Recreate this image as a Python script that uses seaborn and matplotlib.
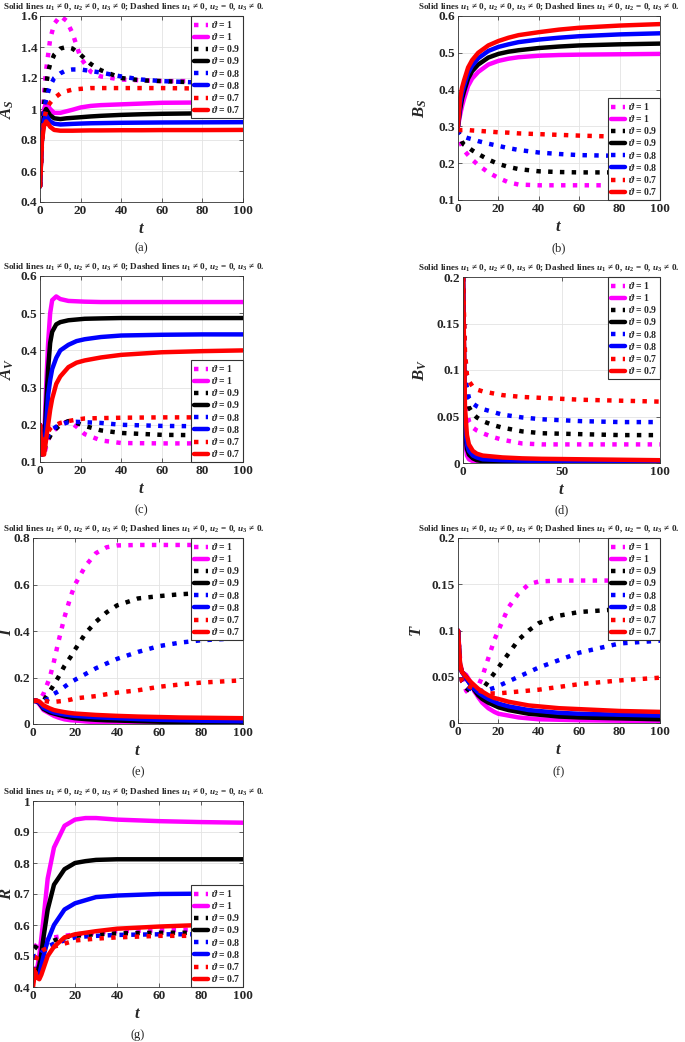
import matplotlib
matplotlib.use("Agg")
import matplotlib.pyplot as plt
import seaborn as sns

# values
thetas = ["1", "0.9", "0.8", "0.7"]
colors = ["#ff00ff", "#000000", "#0000ff", "#ff0000"]

# (a) A_S
t_a = [0, 1, 2, 3, 4, 5, 7, 10, 13, 16, 20, 25, 30, 40, 50, 60, 80, 100]
as_dotted = [
    [0.5, 0.9, 1.1, 1.25, 1.35, 1.45, 1.55, 1.6, 1.57, 1.49, 1.33, 1.24, 1.21, 1.19, 1.185, 1.18, 1.18, 1.18],
    [0.5, 0.85, 1.03, 1.15, 1.24, 1.29, 1.35, 1.39, 1.4, 1.39, 1.35, 1.29, 1.25, 1.2, 1.185, 1.18, 1.17, 1.165],
    [0.5, 0.8, 0.98, 1.06, 1.11, 1.15, 1.2, 1.23, 1.25, 1.255, 1.255, 1.245, 1.235, 1.21, 1.19, 1.18, 1.17, 1.165],
    [0.5, 0.78, 0.93, 0.99, 1.02, 1.04, 1.07, 1.1, 1.115, 1.125, 1.13, 1.135, 1.135, 1.135, 1.135, 1.135, 1.132, 1.13],
]
as_solid = [
    [0.5, 0.85, 1.0, 1.04, 1.02, 1.0, 0.975, 0.975, 0.985, 0.995, 1.01, 1.02, 1.025, 1.03, 1.035, 1.04, 1.042, 1.045],
    [0.5, 0.83, 0.97, 1.0, 0.98, 0.96, 0.94, 0.935, 0.94, 0.943, 0.947, 0.952, 0.956, 0.962, 0.966, 0.969, 0.972, 0.975],
    [0.5, 0.82, 0.93, 0.96, 0.94, 0.92, 0.905, 0.9, 0.902, 0.904, 0.906, 0.908, 0.909, 0.911, 0.912, 0.913, 0.914, 0.915],
    [0.5, 0.8, 0.89, 0.92, 0.905, 0.885, 0.865, 0.86, 0.86, 0.86, 0.861, 0.862, 0.862, 0.863, 0.863, 0.864, 0.864, 0.865],
]

# (b) B_S
t_b = [0, 1, 2, 3, 5, 7, 10, 15, 20, 25, 30, 40, 50, 60, 80, 100]
bs_dotted = [
    [0.29, 0.26, 0.245, 0.235, 0.222, 0.21, 0.195, 0.175, 0.16, 0.148, 0.142, 0.14, 0.14, 0.14, 0.14, 0.14],
    [0.29, 0.27, 0.258, 0.25, 0.243, 0.235, 0.225, 0.21, 0.198, 0.19, 0.184, 0.178, 0.176, 0.175, 0.175, 0.175],
    [0.29, 0.28, 0.275, 0.272, 0.268, 0.265, 0.26, 0.253, 0.247, 0.241, 0.236, 0.229, 0.225, 0.222, 0.22, 0.22],
    [0.29, 0.29, 0.29, 0.29, 0.29, 0.289, 0.288, 0.286, 0.284, 0.283, 0.281, 0.279, 0.277, 0.275, 0.272, 0.27],
]
bs_solid = [
    [0.3, 0.33, 0.355, 0.375, 0.41, 0.43, 0.448, 0.468, 0.478, 0.484, 0.488, 0.492, 0.494, 0.495, 0.496, 0.497],
    [0.3, 0.345, 0.375, 0.395, 0.43, 0.45, 0.468, 0.487, 0.497, 0.503, 0.507, 0.513, 0.517, 0.52, 0.523, 0.525],
    [0.3, 0.36, 0.39, 0.41, 0.445, 0.465, 0.485, 0.505, 0.516, 0.523, 0.529, 0.536, 0.541, 0.545, 0.55, 0.553],
    [0.3, 0.375, 0.405, 0.425, 0.46, 0.48, 0.5, 0.52, 0.532, 0.541, 0.548, 0.556, 0.563, 0.568, 0.574, 0.578],
]

# (c) A_V
t_c = [0, 1, 2, 3, 4, 5, 6, 8, 10, 14, 18, 22, 30, 40, 60, 80, 100]
av_dotted = [
    [0.2, 0.12, 0.12, 0.14, 0.16, 0.17, 0.18, 0.19, 0.2, 0.21, 0.195, 0.175, 0.158, 0.151, 0.15, 0.15, 0.15],
    [0.2, 0.12, 0.13, 0.15, 0.16, 0.17, 0.18, 0.19, 0.2, 0.21, 0.205, 0.197, 0.185, 0.178, 0.173, 0.172, 0.172],
    [0.2, 0.12, 0.14, 0.16, 0.17, 0.18, 0.187, 0.195, 0.2, 0.207, 0.208, 0.207, 0.205, 0.2, 0.197, 0.196, 0.196],
    [0.2, 0.13, 0.15, 0.17, 0.18, 0.19, 0.195, 0.2, 0.205, 0.21, 0.214, 0.217, 0.218, 0.219, 0.22, 0.22, 0.22],
]
av_solid = [
    [0.2, 0.12, 0.15, 0.3, 0.42, 0.5, 0.535, 0.545, 0.538, 0.533, 0.532, 0.531, 0.53, 0.53, 0.53, 0.53, 0.53],
    [0.2, 0.12, 0.13, 0.25, 0.35, 0.42, 0.45, 0.47, 0.476, 0.481, 0.483, 0.485, 0.486, 0.487, 0.487, 0.487, 0.487],
    [0.2, 0.12, 0.13, 0.2, 0.28, 0.32, 0.35, 0.38, 0.4, 0.415, 0.425, 0.43, 0.436, 0.44, 0.442, 0.443, 0.443],
    [0.2, 0.12, 0.12, 0.16, 0.2, 0.24, 0.27, 0.31, 0.33, 0.355, 0.367, 0.373, 0.381, 0.388, 0.395, 0.398, 0.4],
]

# (d) B_V
t_d = [0, 1, 2, 3, 5, 7, 10, 15, 20, 30, 40, 60, 80, 100]
bv_dotted = [
    [0.2, 0.08, 0.055, 0.045, 0.038, 0.035, 0.032, 0.028, 0.025, 0.021, 0.02, 0.02, 0.02, 0.02],
    [0.2, 0.09, 0.07, 0.06, 0.053, 0.049, 0.045, 0.041, 0.038, 0.034, 0.032, 0.031, 0.03, 0.03],
    [0.2, 0.1, 0.08, 0.07, 0.064, 0.061, 0.058, 0.055, 0.052, 0.049, 0.047, 0.045, 0.044, 0.044],
    [0.2, 0.12, 0.095, 0.088, 0.082, 0.079, 0.077, 0.075, 0.073, 0.071, 0.07, 0.068, 0.067, 0.066],
]
bv_solid = [
    [0.2, 0.025, 0.008, 0.004, 0.002, 0.0015, 0.001, 0.0008, 0.0005, 0.0003, 0.0002, 0.0001, 0.0, 0.0],
    [0.2, 0.035, 0.015, 0.009, 0.005, 0.003, 0.002, 0.0015, 0.0012, 0.001, 0.001, 0.001, 0.001, 0.001],
    [0.2, 0.04, 0.02, 0.013, 0.008, 0.006, 0.004, 0.0035, 0.003, 0.0025, 0.0022, 0.002, 0.002, 0.002],
    [0.2, 0.06, 0.03, 0.02, 0.013, 0.01, 0.008, 0.007, 0.006, 0.005, 0.0045, 0.004, 0.0035, 0.003],
]

# (e) I
t_e = [0, 2, 3, 5, 8, 10, 12, 15, 18, 20, 25, 30, 35, 40, 50, 60, 70, 80, 100]
i_dotted = [
    [0.1, 0.1, 0.1, 0.13, 0.2, 0.27, 0.35, 0.46, 0.55, 0.6, 0.68, 0.735, 0.76, 0.768, 0.77, 0.77, 0.77, 0.77, 0.77],
    [0.1, 0.1, 0.1, 0.1, 0.14, 0.17, 0.2, 0.25, 0.29, 0.32, 0.39, 0.44, 0.48, 0.51, 0.54, 0.55, 0.558, 0.563, 0.565],
    [0.1, 0.1, 0.1, 0.1, 0.11, 0.13, 0.14, 0.16, 0.18, 0.19, 0.215, 0.24, 0.26, 0.28, 0.31, 0.335, 0.35, 0.36, 0.37],
    [0.1, 0.1, 0.1, 0.1, 0.095, 0.095, 0.097, 0.1, 0.105, 0.11, 0.115, 0.12, 0.128, 0.135, 0.145, 0.16, 0.17, 0.178, 0.188],
]
i_solid = [
    [0.1, 0.095, 0.085, 0.06, 0.045, 0.035, 0.028, 0.02, 0.016, 0.015, 0.011, 0.008, 0.007, 0.006, 0.004, 0.003, 0.002, 0.002, 0.002],
    [0.1, 0.097, 0.09, 0.065, 0.05, 0.045, 0.04, 0.033, 0.028, 0.025, 0.021, 0.018, 0.016, 0.015, 0.012, 0.01, 0.008, 0.007, 0.005],
    [0.1, 0.098, 0.093, 0.07, 0.057, 0.05, 0.046, 0.041, 0.037, 0.035, 0.032, 0.029, 0.027, 0.025, 0.021, 0.018, 0.016, 0.014, 0.012],
    [0.1, 0.1, 0.097, 0.08, 0.067, 0.06, 0.056, 0.051, 0.047, 0.045, 0.042, 0.039, 0.037, 0.035, 0.032, 0.03, 0.028, 0.027, 0.025],
]

# (f) T
t_f = [0, 1, 2, 4, 6, 8, 10, 12, 15, 18, 20, 25, 30, 35, 40, 50, 60, 80, 100]
tt_dotted = [
    [0.1, 0.07, 0.05, 0.035, 0.03, 0.033, 0.04, 0.05, 0.07, 0.09, 0.1, 0.125, 0.14, 0.15, 0.153, 0.154, 0.154, 0.154, 0.154],
    [0.1, 0.06, 0.045, 0.038, 0.034, 0.032, 0.033, 0.036, 0.045, 0.054, 0.06, 0.075, 0.09, 0.1, 0.108, 0.116, 0.12, 0.123, 0.124],
    [0.1, 0.06, 0.045, 0.04, 0.037, 0.036, 0.035, 0.035, 0.036, 0.038, 0.04, 0.045, 0.05, 0.055, 0.06, 0.068, 0.076, 0.086, 0.089],
    [0.1, 0.06, 0.045, 0.041, 0.039, 0.037, 0.035, 0.034, 0.032, 0.032, 0.032, 0.033, 0.034, 0.035, 0.036, 0.039, 0.042, 0.046, 0.049],
]
tt_solid = [
    [0.1, 0.06, 0.055, 0.052, 0.045, 0.035, 0.028, 0.022, 0.016, 0.012, 0.01, 0.008, 0.006, 0.005, 0.004, 0.0035, 0.003, 0.0025, 0.002],
    [0.1, 0.062, 0.055, 0.05, 0.042, 0.036, 0.03, 0.026, 0.022, 0.019, 0.017, 0.014, 0.012, 0.01, 0.009, 0.007, 0.006, 0.005, 0.004],
    [0.1, 0.063, 0.055, 0.048, 0.042, 0.037, 0.033, 0.03, 0.026, 0.023, 0.021, 0.018, 0.016, 0.014, 0.013, 0.011, 0.01, 0.009, 0.008],
    [0.1, 0.065, 0.055, 0.05, 0.045, 0.041, 0.037, 0.034, 0.03, 0.027, 0.026, 0.023, 0.021, 0.019, 0.018, 0.016, 0.015, 0.013, 0.012],
]

# (g) R
t_g = [0, 1, 2, 3, 4, 5, 7, 10, 15, 20, 25, 30, 40, 60, 80, 100]
r_dotted = [
    [0.45, 0.53, 0.54, 0.545, 0.55, 0.55, 0.555, 0.56, 0.565, 0.57, 0.572, 0.575, 0.58, 0.583, 0.585, 0.585],
    [0.45, 0.53, 0.525, 0.52, 0.525, 0.53, 0.54, 0.55, 0.56, 0.565, 0.568, 0.57, 0.573, 0.575, 0.575, 0.575],
    [0.45, 0.5, 0.5, 0.5, 0.51, 0.52, 0.53, 0.54, 0.55, 0.56, 0.563, 0.565, 0.568, 0.57, 0.57, 0.57],
    [0.45, 0.47, 0.5, 0.51, 0.515, 0.52, 0.525, 0.53, 0.54, 0.55, 0.553, 0.556, 0.56, 0.565, 0.565, 0.565],
]
r_solid = [
    [0.45, 0.46, 0.46, 0.5, 0.56, 0.62, 0.75, 0.85, 0.92, 0.94, 0.945, 0.945, 0.94, 0.935, 0.932, 0.93],
    [0.45, 0.45, 0.45, 0.47, 0.51, 0.56, 0.65, 0.73, 0.78, 0.8, 0.806, 0.81, 0.812, 0.812, 0.812, 0.812],
    [0.45, 0.44, 0.44, 0.44, 0.47, 0.5, 0.55, 0.6, 0.65, 0.67, 0.68, 0.69, 0.695, 0.7, 0.701, 0.702],
    [0.4, 0.45, 0.43, 0.425, 0.44, 0.46, 0.5, 0.53, 0.56, 0.57, 0.575, 0.58, 0.588, 0.595, 0.6, 0.602],
]

sns.set_theme(style="whitegrid")
plt.rcParams.update({
    "font.family": ["Liberation Serif", "DejaVu Serif"],
    "font.weight": "bold",
    "mathtext.fontset": "custom",
    "mathtext.rm": "Liberation Serif:bold",
    "mathtext.it": "Liberation Serif:italic:bold",
    "mathtext.bf": "Liberation Serif:bold",
    "grid.color": "#e3e3e3",
    "grid.linewidth": 0.6,
    "axes.edgecolor": "#333333",
    "axes.linewidth": 0.6,
})

W, H = 685, 1042
fig = plt.figure(figsize=(W / 100, H / 100), dpi=100)

title = (r"Solid lines $u_1\,\neq\,0,\,u_2\,\neq\,0,\,u_3\,\neq\,0$; "
         r"Dashed lines $u_1\,\neq\,0,\,u_2\,=\,0,\,u_3\,\neq\,0$.")


def panel(box, t, dotted, solid, ylim, yticks, ylabel, ylab_x, title_x, loc, cap, cap_y,
          xticks=(0, 20, 40, 60, 80, 100)):
    l, top, r, b = box
    ax = fig.add_axes([l / W, 1 - b / H, (r - l) / W, (b - top) / H])
    for i in range(4):
        lab = r"$\vartheta$ = " + thetas[i]
        sns.lineplot(x=t, y=dotted[i], ax=ax, color=colors[i], linestyle=":",
                     linewidth=3.2, label=lab, legend=False)
        sns.lineplot(x=t, y=solid[i], ax=ax, color=colors[i], linestyle="-",
                     linewidth=3.2, label=lab, legend=False)
    ax.set_xlim(0, 100)
    ax.set_ylim(*ylim)
    ax.set_xticks(list(xticks))
    ax.set_yticks(yticks)
    ax.set_yticklabels([("%g" % v) for v in yticks])
    ax.tick_params(direction="in", top=True, right=True, bottom=True, left=True,
                   length=3, width=0.5, labelsize=9.5, pad=2)
    for s in ax.spines.values():
        s.set_color("#333333")
    ax.set_xlabel(r"$t$", fontsize=12, labelpad=3)
    ax.set_ylabel(ylabel, fontsize=12)
    ax.yaxis.set_label_coords((ylab_x + 6 - l) / (r - l), 0.5)
    ax.set_title(title, fontsize=6.6, fontweight="bold", pad=5,
                 x=(title_x - l) / (r - l))
    leg = ax.legend(loc=loc, fontsize=7, handlelength=1.45, handletextpad=0.3,
                    borderaxespad=0, borderpad=0.3, labelspacing=0.12,
                    fancybox=False, framealpha=1, edgecolor="#333333")
    leg.get_frame().set_linewidth(0.8)
    fig.text((l + r) / 2 / W, 1 - cap_y / H, cap, ha="center", va="center",
             fontsize=9, fontweight="normal")
    return ax


panel((40, 16, 243, 202), t_a, as_dotted, as_solid, (0.4, 1.6),
      [0.4, 0.6, 0.8, 1.0, 1.2, 1.4, 1.6], r"$A_S$", 10, 134, "upper right", "(a)", 248)
panel((458, 16, 660, 200), t_b, bs_dotted, bs_solid, (0.1, 0.6),
      [0.1, 0.2, 0.3, 0.4, 0.5, 0.6], r"$B_S$", 423, 549, "lower right", "(b)", 248)
panel((40, 276, 243, 462), t_c, av_dotted, av_solid, (0.1, 0.6),
      [0.1, 0.2, 0.3, 0.4, 0.5, 0.6], r"$A_V$", 10, 134, "lower right", "(c)", 510)
panel((463, 277, 660, 463), t_d, bv_dotted, bv_solid, (0, 0.2),
      [0, 0.05, 0.1, 0.15, 0.2], r"$B_V$", 423, 549, "upper right", "(d)", 510, xticks=(0, 50, 100))
panel((33, 538, 243, 724), t_e, i_dotted, i_solid, (0, 0.8),
      [0, 0.2, 0.4, 0.6, 0.8], r"$I$", 9, 134, "upper right", "(e)", 772)
panel((458, 538, 660, 723), t_f, tt_dotted, tt_solid, (0, 0.2),
      [0, 0.05, 0.1, 0.15, 0.2], r"$T$", 419, 549, "upper right", "(f)", 772)
panel((33, 801, 243, 987), t_g, r_dotted, r_solid, (0.4, 1.0),
      [0.4, 0.5, 0.6, 0.7, 0.8, 0.9, 1.0], r"$R$", 9, 134, "lower right", "(g)", 1035)

fig.savefig("out.png", dpi=100)
